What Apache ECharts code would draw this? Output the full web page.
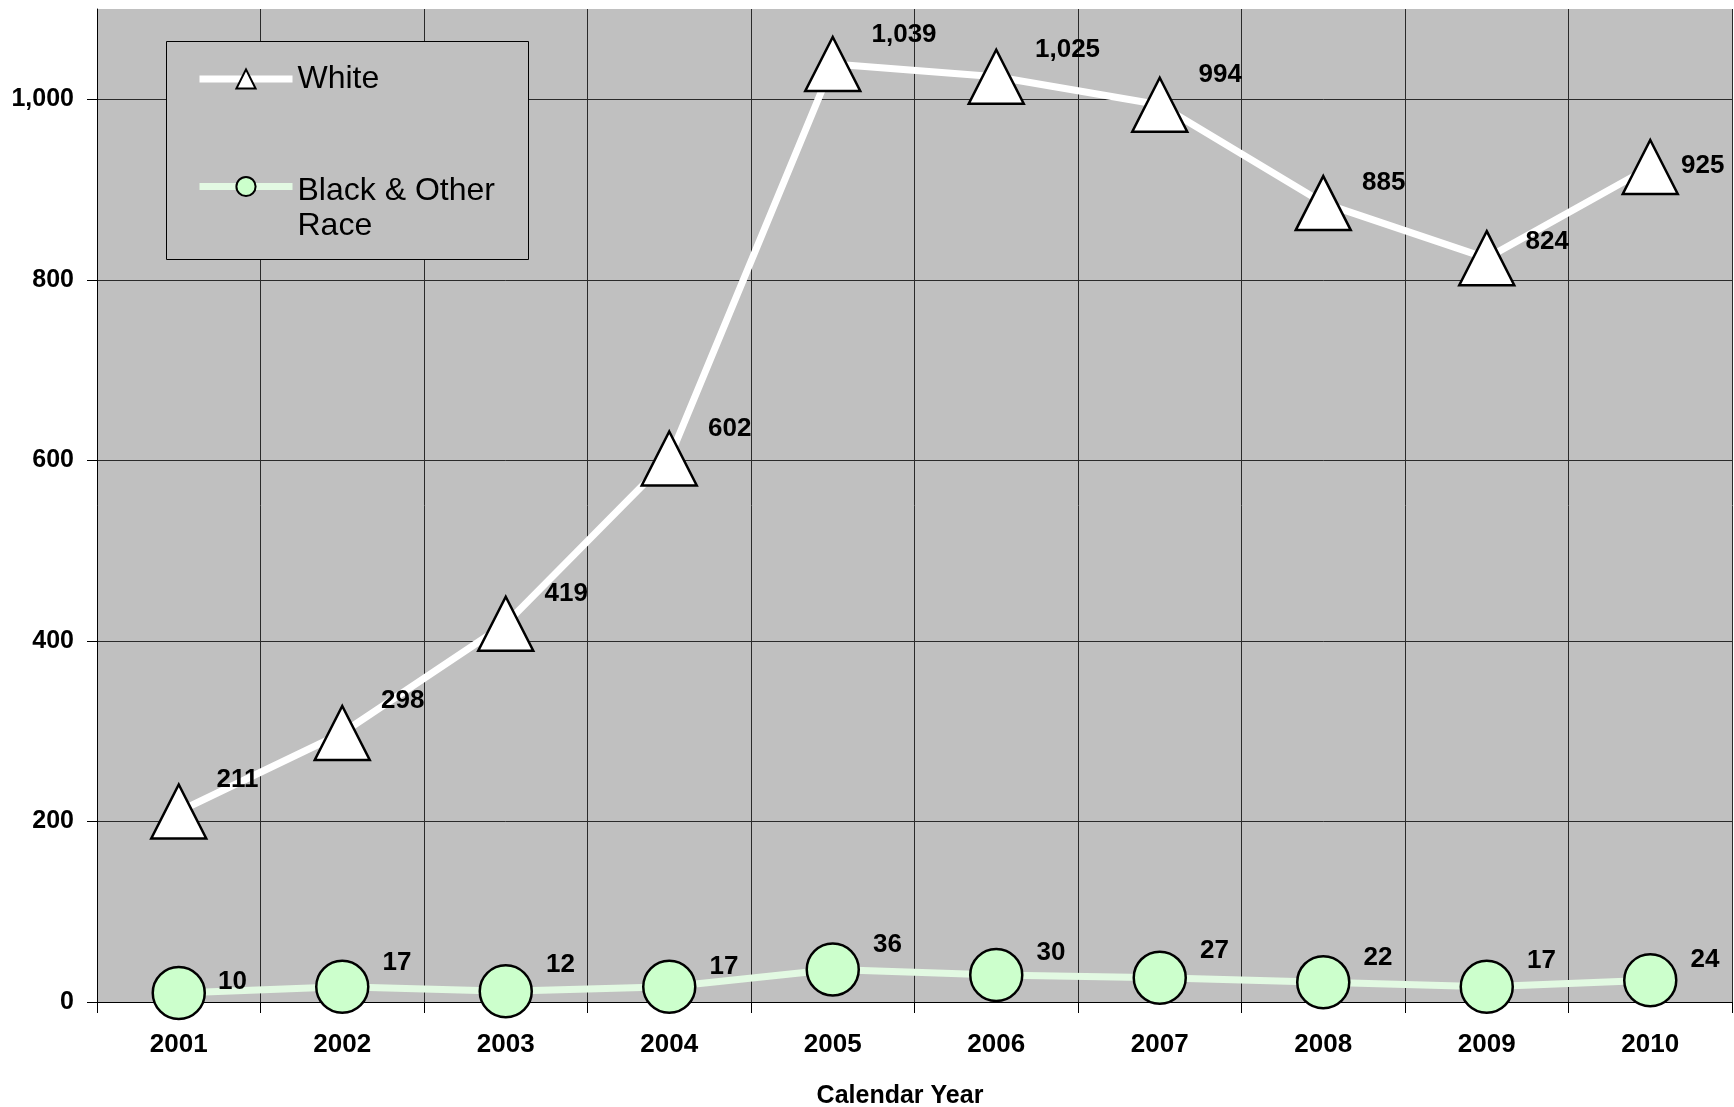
<!DOCTYPE html>
<html>
<head>
<meta charset="utf-8">
<script src="https://cdn.jsdelivr.net/npm/echarts@6/dist/echarts.min.js"></script>
<style>
  html, body { margin: 0; padding: 0; background: #ffffff; }
  #chart { width: 1734px; height: 1107px; }
</style>
</head>
<body>
<div id="chart"></div>
<script>
// ---- data ----
const years = ['2001', '2002', '2003', '2004', '2005', '2006', '2007', '2008', '2009', '2010'];
const white = [211, 298, 419, 602, 1039, 1025, 994, 885, 824, 925];
const blackOther = [10, 17, 12, 17, 36, 30, 27, 22, 17, 24];
const seriesNames = ['White', 'Black & Other Race'];
const xAxisTitle = 'Calendar Year';

// ---- label placement styling (pixel nudges, not data) ----
const whiteLabelNudge = [[4, -32], [5, -32], [5, -30], [5, -30], [5, -29], [5, -27], [5, -30], [5, -20], [5, -16], [-3, -1]];
const blackLabelNudge = [[7, -11], [8, -24], [8, -26], [8, -20], [8, -25], [8, -22], [8, -27], [8, -24], [8, -26], [8, -21]];

const FONT = '"Liberation Sans", Arial, Helvetica, sans-serif';
const fmt = v => Number(v).toLocaleString('en-US');

const chart = echarts.init(document.getElementById('chart'), null, { renderer: 'canvas' });

const labelBase = { show: true, position: 'right', distance: 5, fontFamily: FONT, fontSize: 26, fontWeight: 'bold', color: '#000', formatter: p => fmt(p.value) };

const option = {
  animation: false,
  backgroundColor: '#ffffff',
  textStyle: { fontFamily: FONT },
  grid: {
    left: 97, right: 2, top: 9, bottom: 105,
    outerBoundsMode: 'none',
    containLabel: false,
    show: true, backgroundColor: '#c0c0c0', borderWidth: 0
  },
  graphic: [{
    type: 'rect',
    z: 3,
    shape: { x: 166.5, y: 41.5, width: 362, height: 218 },
    style: { fill: '#c0c0c0', stroke: '#000000', lineWidth: 1 }
  }],
  legend: [
    {
      data: [seriesNames[0]],
      left: 196, top: 61, padding: 0, z: 5,
      itemWidth: 93, itemHeight: 24,
      lineStyle: { width: 7 },
      textStyle: { fontFamily: FONT, fontSize: 32, color: '#000', lineHeight: 36 },
      selectedMode: false
    },
    {
      data: [seriesNames[1]],
      left: 196, top: 129, padding: 0, z: 5,
      itemWidth: 93, itemHeight: 24,
      lineStyle: { width: 7 },
      formatter: () => '{s| }\n{a|Black & Other}\n{a|Race}',
      textStyle: {
        fontFamily: FONT, fontSize: 32, color: '#000', lineHeight: 35,
        rich: {
          s: { fontFamily: FONT, fontSize: 10, lineHeight: 45 },
          a: { fontFamily: FONT, fontSize: 32, lineHeight: 35, color: '#000' }
        }
      },
      selectedMode: false
    }
  ],
  xAxis: {
    type: 'category',
    data: years,
    boundaryGap: true,
    name: xAxisTitle,
    nameLocation: 'middle',
    nameGap: 82,
    nameTextStyle: { fontFamily: FONT, fontSize: 25, fontWeight: 'bold', color: '#000', padding: [0, 29, 0, 0] },
    axisLine: { show: true, lineStyle: { color: '#000', width: 1 } },
    axisTick: { show: true, length: 11, alignWithLabel: false, lineStyle: { color: '#000' } },
    axisLabel: { margin: 30, fontFamily: FONT, fontSize: 26, fontWeight: 'bold', color: '#000' },
    splitLine: { show: true, lineStyle: { color: '#2a2a2a', width: 1 } }
  },
  yAxis: {
    type: 'value',
    min: 0, max: 1100, interval: 200,
    axisLine: { show: true, lineStyle: { color: '#000', width: 1 } },
    axisTick: { show: true, length: 10, lineStyle: { color: '#000' } },
    axisLabel: { margin: 23, fontFamily: FONT, fontSize: 25, fontWeight: 'bold', color: '#000', showMaxLabel: false, formatter: v => fmt(v) },
    splitLine: { show: true, showMaxLine: false, lineStyle: { color: '#2a2a2a', width: 1 } }
  },
  series: [
    {
      name: seriesNames[0],
      type: 'line',
      data: white.map((v, i) => ({ value: v, label: { offset: whiteLabelNudge[i] } })),
      symbol: 'triangle',
      symbolSize: [55, 54],
      z: 3,
      lineStyle: { color: '#ffffff', width: 7 },
      itemStyle: { color: '#ffffff', borderColor: '#000000', borderWidth: 2.5 },
      label: Object.assign({}, labelBase)
    },
    {
      name: seriesNames[1],
      type: 'line',
      data: blackOther.map((v, i) => ({ value: v, label: { offset: blackLabelNudge[i] } })),
      symbol: 'circle',
      symbolSize: 52,
      z: 3,
      lineStyle: { color: '#e2f9e2', width: 7 },
      itemStyle: { color: '#ccffcc', borderColor: '#000000', borderWidth: 2.5 },
      label: Object.assign({}, labelBase)
    }
  ]
};

chart.setOption(option);
</script>
</body>
</html>
